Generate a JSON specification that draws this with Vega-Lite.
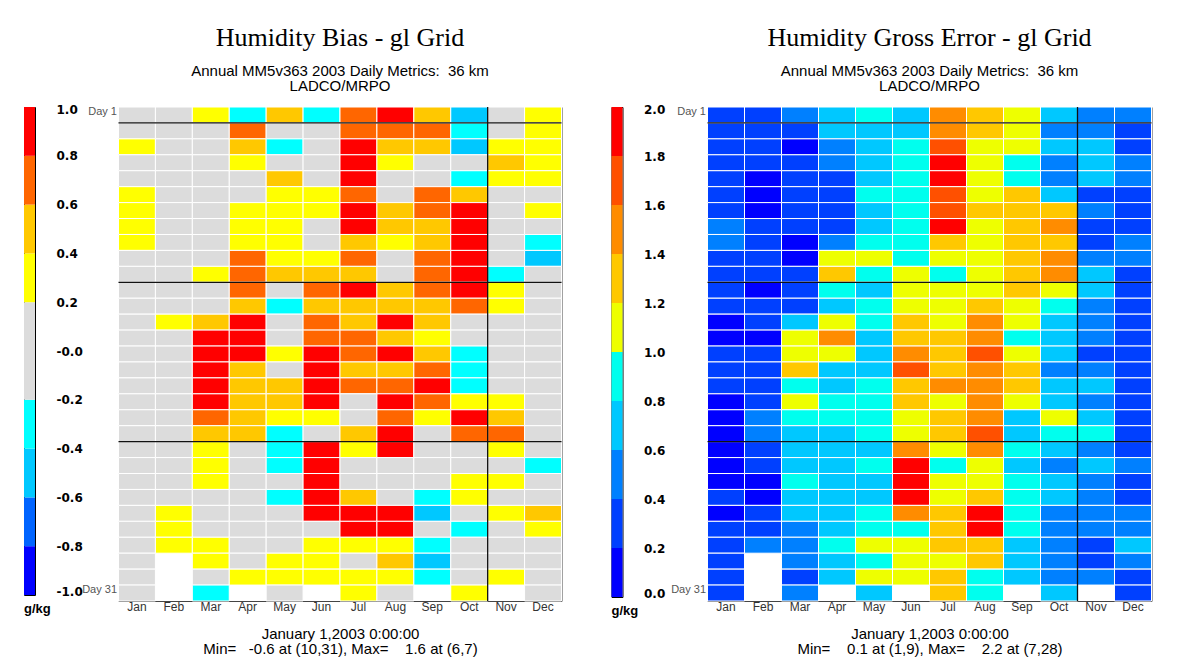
{
"$schema": "https://vega.github.io/schema/vega-lite/v6.json",
"background": "white",
"padding": {"left": 23, "top": 24, "right": 0, "bottom": 0},
"config": {"view": {"stroke": null}, "axis": {"grid": false}, "font": "Liberation Sans"},
"datasets": {
"hl": [{"d":2},{"d":12},{"d":22}],
"vl": [{"m":"Nov"}],
"cbBias": [{"lo":-1,"hi":-0.8,"v":-0.9},{"lo":-0.8,"hi":-0.6,"v":-0.7},{"lo":-0.6,"hi":-0.4,"v":-0.5},{"lo":-0.4,"hi":-0.2,"v":-0.3},{"lo":-0.2,"hi":0.2,"v":0},{"lo":0.2,"hi":0.4,"v":0.3},{"lo":0.4,"hi":0.6,"v":0.5},{"lo":0.6,"hi":0.8,"v":0.7},{"lo":0.8,"hi":1,"v":0.9}],
"cbGross": [{"lo":0,"hi":0.2,"v":0.1},{"lo":0.2,"hi":0.4,"v":0.3},{"lo":0.4,"hi":0.6,"v":0.5},{"lo":0.6,"hi":0.8,"v":0.7},{"lo":0.8,"hi":1.0,"v":0.9},{"lo":1.0,"hi":1.2,"v":1.1},{"lo":1.2,"hi":1.4,"v":1.3},{"lo":1.4,"hi":1.6,"v":1.5},{"lo":1.6,"hi":1.8,"v":1.7},{"lo":1.8,"hi":2.0,"v":1.9}],
"bias": [
{"m":"Jan","d":1,"v":0},{"m":"Feb","d":1,"v":0},{"m":"Mar","d":1,"v":0.3},{"m":"Apr","d":1,"v":-0.3},{"m":"May","d":1,"v":0.5},{"m":"Jun","d":1,"v":-0.3},{"m":"Jul","d":1,"v":0.7},{"m":"Aug","d":1,"v":0.9},{"m":"Sep","d":1,"v":0.5},{"m":"Oct","d":1,"v":-0.5},{"m":"Nov","d":1,"v":0},{"m":"Dec","d":1,"v":0.3},
{"m":"Jan","d":2,"v":0},{"m":"Feb","d":2,"v":0},{"m":"Mar","d":2,"v":0},{"m":"Apr","d":2,"v":0.7},{"m":"May","d":2,"v":0},{"m":"Jun","d":2,"v":0},{"m":"Jul","d":2,"v":0.7},{"m":"Aug","d":2,"v":0.7},{"m":"Sep","d":2,"v":0.7},{"m":"Oct","d":2,"v":-0.3},{"m":"Nov","d":2,"v":0},{"m":"Dec","d":2,"v":0.3},
{"m":"Jan","d":3,"v":0.3},{"m":"Feb","d":3,"v":0},{"m":"Mar","d":3,"v":0},{"m":"Apr","d":3,"v":0.5},{"m":"May","d":3,"v":-0.3},{"m":"Jun","d":3,"v":0},{"m":"Jul","d":3,"v":0.9},{"m":"Aug","d":3,"v":0.5},{"m":"Sep","d":3,"v":0.5},{"m":"Oct","d":3,"v":-0.5},{"m":"Nov","d":3,"v":0.3},{"m":"Dec","d":3,"v":0.3},
{"m":"Jan","d":4,"v":0},{"m":"Feb","d":4,"v":0},{"m":"Mar","d":4,"v":0},{"m":"Apr","d":4,"v":0.3},{"m":"May","d":4,"v":0},{"m":"Jun","d":4,"v":0},{"m":"Jul","d":4,"v":0.9},{"m":"Aug","d":4,"v":0.3},{"m":"Sep","d":4,"v":0},{"m":"Oct","d":4,"v":0},{"m":"Nov","d":4,"v":0.5},{"m":"Dec","d":4,"v":0.3},
{"m":"Jan","d":5,"v":0},{"m":"Feb","d":5,"v":0},{"m":"Mar","d":5,"v":0},{"m":"Apr","d":5,"v":0},{"m":"May","d":5,"v":0.5},{"m":"Jun","d":5,"v":0},{"m":"Jul","d":5,"v":0.9},{"m":"Aug","d":5,"v":0},{"m":"Sep","d":5,"v":0},{"m":"Oct","d":5,"v":-0.3},{"m":"Nov","d":5,"v":0.3},{"m":"Dec","d":5,"v":0.3},
{"m":"Jan","d":6,"v":0.3},{"m":"Feb","d":6,"v":0},{"m":"Mar","d":6,"v":0},{"m":"Apr","d":6,"v":0},{"m":"May","d":6,"v":0.3},{"m":"Jun","d":6,"v":0.3},{"m":"Jul","d":6,"v":0.7},{"m":"Aug","d":6,"v":0},{"m":"Sep","d":6,"v":0.7},{"m":"Oct","d":6,"v":0.5},{"m":"Nov","d":6,"v":0},{"m":"Dec","d":6,"v":0},
{"m":"Jan","d":7,"v":0.3},{"m":"Feb","d":7,"v":0},{"m":"Mar","d":7,"v":0},{"m":"Apr","d":7,"v":0.3},{"m":"May","d":7,"v":0.3},{"m":"Jun","d":7,"v":0.3},{"m":"Jul","d":7,"v":0.9},{"m":"Aug","d":7,"v":0.5},{"m":"Sep","d":7,"v":0.7},{"m":"Oct","d":7,"v":0.9},{"m":"Nov","d":7,"v":0},{"m":"Dec","d":7,"v":0.3},
{"m":"Jan","d":8,"v":0.3},{"m":"Feb","d":8,"v":0},{"m":"Mar","d":8,"v":0},{"m":"Apr","d":8,"v":0.3},{"m":"May","d":8,"v":0.3},{"m":"Jun","d":8,"v":0},{"m":"Jul","d":8,"v":0.9},{"m":"Aug","d":8,"v":0.5},{"m":"Sep","d":8,"v":0.5},{"m":"Oct","d":8,"v":0.9},{"m":"Nov","d":8,"v":0},{"m":"Dec","d":8,"v":0},
{"m":"Jan","d":9,"v":0.3},{"m":"Feb","d":9,"v":0},{"m":"Mar","d":9,"v":0},{"m":"Apr","d":9,"v":0.3},{"m":"May","d":9,"v":0.3},{"m":"Jun","d":9,"v":0},{"m":"Jul","d":9,"v":0.5},{"m":"Aug","d":9,"v":0.3},{"m":"Sep","d":9,"v":0.5},{"m":"Oct","d":9,"v":0.9},{"m":"Nov","d":9,"v":0},{"m":"Dec","d":9,"v":-0.3},
{"m":"Jan","d":10,"v":0},{"m":"Feb","d":10,"v":0},{"m":"Mar","d":10,"v":0},{"m":"Apr","d":10,"v":0.7},{"m":"May","d":10,"v":0.3},{"m":"Jun","d":10,"v":0.3},{"m":"Jul","d":10,"v":0.7},{"m":"Aug","d":10,"v":0},{"m":"Sep","d":10,"v":0.7},{"m":"Oct","d":10,"v":0.9},{"m":"Nov","d":10,"v":0},{"m":"Dec","d":10,"v":-0.5},
{"m":"Jan","d":11,"v":0},{"m":"Feb","d":11,"v":0},{"m":"Mar","d":11,"v":0.3},{"m":"Apr","d":11,"v":0.7},{"m":"May","d":11,"v":0.5},{"m":"Jun","d":11,"v":0.5},{"m":"Jul","d":11,"v":0.5},{"m":"Aug","d":11,"v":0},{"m":"Sep","d":11,"v":0.7},{"m":"Oct","d":11,"v":0.9},{"m":"Nov","d":11,"v":-0.3},{"m":"Dec","d":11,"v":0},
{"m":"Jan","d":12,"v":0},{"m":"Feb","d":12,"v":0},{"m":"Mar","d":12,"v":0},{"m":"Apr","d":12,"v":0.7},{"m":"May","d":12,"v":0},{"m":"Jun","d":12,"v":0.7},{"m":"Jul","d":12,"v":0.9},{"m":"Aug","d":12,"v":0.5},{"m":"Sep","d":12,"v":0.7},{"m":"Oct","d":12,"v":0.9},{"m":"Nov","d":12,"v":0.3},{"m":"Dec","d":12,"v":0},
{"m":"Jan","d":13,"v":0},{"m":"Feb","d":13,"v":0},{"m":"Mar","d":13,"v":0},{"m":"Apr","d":13,"v":0.5},{"m":"May","d":13,"v":-0.3},{"m":"Jun","d":13,"v":0.5},{"m":"Jul","d":13,"v":0.5},{"m":"Aug","d":13,"v":0.5},{"m":"Sep","d":13,"v":0.5},{"m":"Oct","d":13,"v":0.7},{"m":"Nov","d":13,"v":0.3},{"m":"Dec","d":13,"v":0},
{"m":"Jan","d":14,"v":0},{"m":"Feb","d":14,"v":0.3},{"m":"Mar","d":14,"v":0.5},{"m":"Apr","d":14,"v":0.9},{"m":"May","d":14,"v":0},{"m":"Jun","d":14,"v":0.7},{"m":"Jul","d":14,"v":0.5},{"m":"Aug","d":14,"v":0.9},{"m":"Sep","d":14,"v":0.5},{"m":"Oct","d":14,"v":0},{"m":"Nov","d":14,"v":0},{"m":"Dec","d":14,"v":0},
{"m":"Jan","d":15,"v":0},{"m":"Feb","d":15,"v":0},{"m":"Mar","d":15,"v":0.9},{"m":"Apr","d":15,"v":0.9},{"m":"May","d":15,"v":0},{"m":"Jun","d":15,"v":0.7},{"m":"Jul","d":15,"v":0.7},{"m":"Aug","d":15,"v":0.5},{"m":"Sep","d":15,"v":0.3},{"m":"Oct","d":15,"v":0},{"m":"Nov","d":15,"v":0},{"m":"Dec","d":15,"v":0},
{"m":"Jan","d":16,"v":0},{"m":"Feb","d":16,"v":0},{"m":"Mar","d":16,"v":0.9},{"m":"Apr","d":16,"v":0.9},{"m":"May","d":16,"v":0.3},{"m":"Jun","d":16,"v":0.9},{"m":"Jul","d":16,"v":0.7},{"m":"Aug","d":16,"v":0.9},{"m":"Sep","d":16,"v":0.5},{"m":"Oct","d":16,"v":-0.3},{"m":"Nov","d":16,"v":0},{"m":"Dec","d":16,"v":0},
{"m":"Jan","d":17,"v":0},{"m":"Feb","d":17,"v":0},{"m":"Mar","d":17,"v":0.9},{"m":"Apr","d":17,"v":0.5},{"m":"May","d":17,"v":0},{"m":"Jun","d":17,"v":0.9},{"m":"Jul","d":17,"v":0.5},{"m":"Aug","d":17,"v":0.5},{"m":"Sep","d":17,"v":0.7},{"m":"Oct","d":17,"v":-0.3},{"m":"Nov","d":17,"v":0},{"m":"Dec","d":17,"v":0},
{"m":"Jan","d":18,"v":0},{"m":"Feb","d":18,"v":0},{"m":"Mar","d":18,"v":0.9},{"m":"Apr","d":18,"v":0.5},{"m":"May","d":18,"v":0.5},{"m":"Jun","d":18,"v":0.9},{"m":"Jul","d":18,"v":0.7},{"m":"Aug","d":18,"v":0.7},{"m":"Sep","d":18,"v":0.9},{"m":"Oct","d":18,"v":-0.3},{"m":"Nov","d":18,"v":0},{"m":"Dec","d":18,"v":0},
{"m":"Jan","d":19,"v":0},{"m":"Feb","d":19,"v":0},{"m":"Mar","d":19,"v":0.9},{"m":"Apr","d":19,"v":0.5},{"m":"May","d":19,"v":0.5},{"m":"Jun","d":19,"v":0.9},{"m":"Jul","d":19,"v":0},{"m":"Aug","d":19,"v":0.9},{"m":"Sep","d":19,"v":0.7},{"m":"Oct","d":19,"v":0.3},{"m":"Nov","d":19,"v":0.3},{"m":"Dec","d":19,"v":0},
{"m":"Jan","d":20,"v":0},{"m":"Feb","d":20,"v":0},{"m":"Mar","d":20,"v":0.7},{"m":"Apr","d":20,"v":0.5},{"m":"May","d":20,"v":0.3},{"m":"Jun","d":20,"v":0.3},{"m":"Jul","d":20,"v":0},{"m":"Aug","d":20,"v":0.7},{"m":"Sep","d":20,"v":0.3},{"m":"Oct","d":20,"v":0.9},{"m":"Nov","d":20,"v":0.5},{"m":"Dec","d":20,"v":0},
{"m":"Jan","d":21,"v":0},{"m":"Feb","d":21,"v":0},{"m":"Mar","d":21,"v":0.5},{"m":"Apr","d":21,"v":0.5},{"m":"May","d":21,"v":-0.3},{"m":"Jun","d":21,"v":0},{"m":"Jul","d":21,"v":0.5},{"m":"Aug","d":21,"v":0.9},{"m":"Sep","d":21,"v":0},{"m":"Oct","d":21,"v":0.7},{"m":"Nov","d":21,"v":0.7},{"m":"Dec","d":21,"v":0},
{"m":"Jan","d":22,"v":0},{"m":"Feb","d":22,"v":0},{"m":"Mar","d":22,"v":0.3},{"m":"Apr","d":22,"v":0},{"m":"May","d":22,"v":-0.3},{"m":"Jun","d":22,"v":0.9},{"m":"Jul","d":22,"v":0.3},{"m":"Aug","d":22,"v":0.9},{"m":"Sep","d":22,"v":0},{"m":"Oct","d":22,"v":0},{"m":"Nov","d":22,"v":0.3},{"m":"Dec","d":22,"v":0},
{"m":"Jan","d":23,"v":0},{"m":"Feb","d":23,"v":0},{"m":"Mar","d":23,"v":0.3},{"m":"Apr","d":23,"v":0},{"m":"May","d":23,"v":-0.3},{"m":"Jun","d":23,"v":0.9},{"m":"Jul","d":23,"v":0},{"m":"Aug","d":23,"v":0},{"m":"Sep","d":23,"v":0},{"m":"Oct","d":23,"v":0},{"m":"Nov","d":23,"v":0},{"m":"Dec","d":23,"v":-0.3},
{"m":"Jan","d":24,"v":0},{"m":"Feb","d":24,"v":0},{"m":"Mar","d":24,"v":0.3},{"m":"Apr","d":24,"v":0},{"m":"May","d":24,"v":0},{"m":"Jun","d":24,"v":0.9},{"m":"Jul","d":24,"v":0},{"m":"Aug","d":24,"v":0},{"m":"Sep","d":24,"v":0},{"m":"Oct","d":24,"v":0.3},{"m":"Nov","d":24,"v":0.3},{"m":"Dec","d":24,"v":0},
{"m":"Jan","d":25,"v":0},{"m":"Feb","d":25,"v":0},{"m":"Mar","d":25,"v":0},{"m":"Apr","d":25,"v":0},{"m":"May","d":25,"v":-0.3},{"m":"Jun","d":25,"v":0.9},{"m":"Jul","d":25,"v":0.5},{"m":"Aug","d":25,"v":0},{"m":"Sep","d":25,"v":-0.3},{"m":"Oct","d":25,"v":0.3},{"m":"Nov","d":25,"v":0},{"m":"Dec","d":25,"v":0},
{"m":"Jan","d":26,"v":0},{"m":"Feb","d":26,"v":0.3},{"m":"Mar","d":26,"v":0},{"m":"Apr","d":26,"v":0},{"m":"May","d":26,"v":0},{"m":"Jun","d":26,"v":0.9},{"m":"Jul","d":26,"v":0.9},{"m":"Aug","d":26,"v":0.9},{"m":"Sep","d":26,"v":-0.5},{"m":"Oct","d":26,"v":0},{"m":"Nov","d":26,"v":0.3},{"m":"Dec","d":26,"v":0.5},
{"m":"Jan","d":27,"v":0},{"m":"Feb","d":27,"v":0.3},{"m":"Mar","d":27,"v":0},{"m":"Apr","d":27,"v":0},{"m":"May","d":27,"v":0},{"m":"Jun","d":27,"v":0},{"m":"Jul","d":27,"v":0.9},{"m":"Aug","d":27,"v":0.9},{"m":"Sep","d":27,"v":0},{"m":"Oct","d":27,"v":-0.3},{"m":"Nov","d":27,"v":0},{"m":"Dec","d":27,"v":0.3},
{"m":"Jan","d":28,"v":0},{"m":"Feb","d":28,"v":0.3},{"m":"Mar","d":28,"v":0.3},{"m":"Apr","d":28,"v":0},{"m":"May","d":28,"v":0},{"m":"Jun","d":28,"v":0.3},{"m":"Jul","d":28,"v":0.3},{"m":"Aug","d":28,"v":0.3},{"m":"Sep","d":28,"v":-0.3},{"m":"Oct","d":28,"v":0},{"m":"Nov","d":28,"v":0},{"m":"Dec","d":28,"v":0},
{"m":"Jan","d":29,"v":0},{"m":"Mar","d":29,"v":0.3},{"m":"Apr","d":29,"v":0},{"m":"May","d":29,"v":0.3},{"m":"Jun","d":29,"v":0.3},{"m":"Jul","d":29,"v":0},{"m":"Aug","d":29,"v":0.5},{"m":"Sep","d":29,"v":-0.5},{"m":"Oct","d":29,"v":0},{"m":"Nov","d":29,"v":0},{"m":"Dec","d":29,"v":0},
{"m":"Jan","d":30,"v":0},{"m":"Mar","d":30,"v":0},{"m":"Apr","d":30,"v":0.3},{"m":"May","d":30,"v":0.3},{"m":"Jun","d":30,"v":0.3},{"m":"Jul","d":30,"v":0.3},{"m":"Aug","d":30,"v":0.3},{"m":"Sep","d":30,"v":-0.3},{"m":"Oct","d":30,"v":0},{"m":"Nov","d":30,"v":0.3},{"m":"Dec","d":30,"v":0},
{"m":"Jan","d":31,"v":0},{"m":"Mar","d":31,"v":-0.3},{"m":"May","d":31,"v":0},{"m":"Jul","d":31,"v":0.3},{"m":"Aug","d":31,"v":0},{"m":"Oct","d":31,"v":0.3},{"m":"Dec","d":31,"v":0}
],
"gross": [
{"m":"Jan","d":1,"v":0.3},{"m":"Feb","d":1,"v":0.3},{"m":"Mar","d":1,"v":0.5},{"m":"Apr","d":1,"v":0.7},{"m":"May","d":1,"v":0.9},{"m":"Jun","d":1,"v":0.7},{"m":"Jul","d":1,"v":1.5},{"m":"Aug","d":1,"v":1.3},{"m":"Sep","d":1,"v":1.1},{"m":"Oct","d":1,"v":0.7},{"m":"Nov","d":1,"v":0.5},{"m":"Dec","d":1,"v":0.5},
{"m":"Jan","d":2,"v":0.3},{"m":"Feb","d":2,"v":0.3},{"m":"Mar","d":2,"v":0.3},{"m":"Apr","d":2,"v":0.7},{"m":"May","d":2,"v":0.7},{"m":"Jun","d":2,"v":0.7},{"m":"Jul","d":2,"v":1.5},{"m":"Aug","d":2,"v":1.3},{"m":"Sep","d":2,"v":1.1},{"m":"Oct","d":2,"v":0.5},{"m":"Nov","d":2,"v":0.5},{"m":"Dec","d":2,"v":0.3},
{"m":"Jan","d":3,"v":0.3},{"m":"Feb","d":3,"v":0.3},{"m":"Mar","d":3,"v":0.1},{"m":"Apr","d":3,"v":0.5},{"m":"May","d":3,"v":0.7},{"m":"Jun","d":3,"v":0.9},{"m":"Jul","d":3,"v":1.7},{"m":"Aug","d":3,"v":1.1},{"m":"Sep","d":3,"v":1.1},{"m":"Oct","d":3,"v":0.7},{"m":"Nov","d":3,"v":0.7},{"m":"Dec","d":3,"v":0.3},
{"m":"Jan","d":4,"v":0.3},{"m":"Feb","d":4,"v":0.3},{"m":"Mar","d":4,"v":0.3},{"m":"Apr","d":4,"v":0.5},{"m":"May","d":4,"v":0.7},{"m":"Jun","d":4,"v":0.9},{"m":"Jul","d":4,"v":1.9},{"m":"Aug","d":4,"v":1.1},{"m":"Sep","d":4,"v":0.9},{"m":"Oct","d":4,"v":0.5},{"m":"Nov","d":4,"v":0.7},{"m":"Dec","d":4,"v":0.5},
{"m":"Jan","d":5,"v":0.3},{"m":"Feb","d":5,"v":0.1},{"m":"Mar","d":5,"v":0.3},{"m":"Apr","d":5,"v":0.3},{"m":"May","d":5,"v":0.7},{"m":"Jun","d":5,"v":0.9},{"m":"Jul","d":5,"v":1.9},{"m":"Aug","d":5,"v":1.1},{"m":"Sep","d":5,"v":0.9},{"m":"Oct","d":5,"v":0.5},{"m":"Nov","d":5,"v":0.7},{"m":"Dec","d":5,"v":0.5},
{"m":"Jan","d":6,"v":0.3},{"m":"Feb","d":6,"v":0.1},{"m":"Mar","d":6,"v":0.3},{"m":"Apr","d":6,"v":0.3},{"m":"May","d":6,"v":0.9},{"m":"Jun","d":6,"v":0.9},{"m":"Jul","d":6,"v":1.7},{"m":"Aug","d":6,"v":1.1},{"m":"Sep","d":6,"v":1.3},{"m":"Oct","d":6,"v":0.7},{"m":"Nov","d":6,"v":0.3},{"m":"Dec","d":6,"v":0.3},
{"m":"Jan","d":7,"v":0.3},{"m":"Feb","d":7,"v":0.1},{"m":"Mar","d":7,"v":0.3},{"m":"Apr","d":7,"v":0.3},{"m":"May","d":7,"v":0.7},{"m":"Jun","d":7,"v":0.9},{"m":"Jul","d":7,"v":1.7},{"m":"Aug","d":7,"v":1.3},{"m":"Sep","d":7,"v":1.3},{"m":"Oct","d":7,"v":1.3},{"m":"Nov","d":7,"v":0.5},{"m":"Dec","d":7,"v":0.3},
{"m":"Jan","d":8,"v":0.5},{"m":"Feb","d":8,"v":0.3},{"m":"Mar","d":8,"v":0.3},{"m":"Apr","d":8,"v":0.3},{"m":"May","d":8,"v":0.7},{"m":"Jun","d":8,"v":0.9},{"m":"Jul","d":8,"v":1.9},{"m":"Aug","d":8,"v":1.1},{"m":"Sep","d":8,"v":1.3},{"m":"Oct","d":8,"v":1.5},{"m":"Nov","d":8,"v":0.3},{"m":"Dec","d":8,"v":0.3},
{"m":"Jan","d":9,"v":0.5},{"m":"Feb","d":9,"v":0.3},{"m":"Mar","d":9,"v":0.1},{"m":"Apr","d":9,"v":0.5},{"m":"May","d":9,"v":0.9},{"m":"Jun","d":9,"v":0.9},{"m":"Jul","d":9,"v":1.3},{"m":"Aug","d":9,"v":1.1},{"m":"Sep","d":9,"v":1.3},{"m":"Oct","d":9,"v":1.3},{"m":"Nov","d":9,"v":0.3},{"m":"Dec","d":9,"v":0.5},
{"m":"Jan","d":10,"v":0.3},{"m":"Feb","d":10,"v":0.3},{"m":"Mar","d":10,"v":0.1},{"m":"Apr","d":10,"v":1.1},{"m":"May","d":10,"v":1.1},{"m":"Jun","d":10,"v":0.9},{"m":"Jul","d":10,"v":1.1},{"m":"Aug","d":10,"v":1.1},{"m":"Sep","d":10,"v":1.3},{"m":"Oct","d":10,"v":1.5},{"m":"Nov","d":10,"v":0.5},{"m":"Dec","d":10,"v":0.5},
{"m":"Jan","d":11,"v":0.3},{"m":"Feb","d":11,"v":0.3},{"m":"Mar","d":11,"v":0.3},{"m":"Apr","d":11,"v":1.3},{"m":"May","d":11,"v":0.9},{"m":"Jun","d":11,"v":1.1},{"m":"Jul","d":11,"v":0.9},{"m":"Aug","d":11,"v":1.1},{"m":"Sep","d":11,"v":1.3},{"m":"Oct","d":11,"v":1.5},{"m":"Nov","d":11,"v":0.7},{"m":"Dec","d":11,"v":0.3},
{"m":"Jan","d":12,"v":0.3},{"m":"Feb","d":12,"v":0.1},{"m":"Mar","d":12,"v":0.3},{"m":"Apr","d":12,"v":0.9},{"m":"May","d":12,"v":0.7},{"m":"Jun","d":12,"v":1.1},{"m":"Jul","d":12,"v":1.1},{"m":"Aug","d":12,"v":1.1},{"m":"Sep","d":12,"v":1.3},{"m":"Oct","d":12,"v":1.1},{"m":"Nov","d":12,"v":0.7},{"m":"Dec","d":12,"v":0.3},
{"m":"Jan","d":13,"v":0.3},{"m":"Feb","d":13,"v":0.3},{"m":"Mar","d":13,"v":0.3},{"m":"Apr","d":13,"v":0.7},{"m":"May","d":13,"v":0.9},{"m":"Jun","d":13,"v":1.1},{"m":"Jul","d":13,"v":1.1},{"m":"Aug","d":13,"v":1.3},{"m":"Sep","d":13,"v":1.1},{"m":"Oct","d":13,"v":0.9},{"m":"Nov","d":13,"v":0.5},{"m":"Dec","d":13,"v":0.3},
{"m":"Jan","d":14,"v":0.1},{"m":"Feb","d":14,"v":0.3},{"m":"Mar","d":14,"v":0.7},{"m":"Apr","d":14,"v":1.1},{"m":"May","d":14,"v":0.9},{"m":"Jun","d":14,"v":1.3},{"m":"Jul","d":14,"v":1.1},{"m":"Aug","d":14,"v":1.5},{"m":"Sep","d":14,"v":1.1},{"m":"Oct","d":14,"v":0.7},{"m":"Nov","d":14,"v":0.5},{"m":"Dec","d":14,"v":0.3},
{"m":"Jan","d":15,"v":0.1},{"m":"Feb","d":15,"v":0.1},{"m":"Mar","d":15,"v":1.1},{"m":"Apr","d":15,"v":1.5},{"m":"May","d":15,"v":0.7},{"m":"Jun","d":15,"v":1.3},{"m":"Jul","d":15,"v":1.3},{"m":"Aug","d":15,"v":1.5},{"m":"Sep","d":15,"v":0.9},{"m":"Oct","d":15,"v":0.7},{"m":"Nov","d":15,"v":0.5},{"m":"Dec","d":15,"v":0.3},
{"m":"Jan","d":16,"v":0.3},{"m":"Feb","d":16,"v":0.3},{"m":"Mar","d":16,"v":1.1},{"m":"Apr","d":16,"v":1.1},{"m":"May","d":16,"v":0.7},{"m":"Jun","d":16,"v":1.5},{"m":"Jul","d":16,"v":1.3},{"m":"Aug","d":16,"v":1.7},{"m":"Sep","d":16,"v":1.1},{"m":"Oct","d":16,"v":0.7},{"m":"Nov","d":16,"v":0.3},{"m":"Dec","d":16,"v":0.3},
{"m":"Jan","d":17,"v":0.3},{"m":"Feb","d":17,"v":0.3},{"m":"Mar","d":17,"v":1.3},{"m":"Apr","d":17,"v":0.7},{"m":"May","d":17,"v":0.7},{"m":"Jun","d":17,"v":1.7},{"m":"Jul","d":17,"v":1.3},{"m":"Aug","d":17,"v":1.5},{"m":"Sep","d":17,"v":1.3},{"m":"Oct","d":17,"v":0.5},{"m":"Nov","d":17,"v":0.5},{"m":"Dec","d":17,"v":0.3},
{"m":"Jan","d":18,"v":0.3},{"m":"Feb","d":18,"v":0.3},{"m":"Mar","d":18,"v":0.9},{"m":"Apr","d":18,"v":0.7},{"m":"May","d":18,"v":0.9},{"m":"Jun","d":18,"v":1.3},{"m":"Jul","d":18,"v":1.5},{"m":"Aug","d":18,"v":1.5},{"m":"Sep","d":18,"v":1.3},{"m":"Oct","d":18,"v":0.7},{"m":"Nov","d":18,"v":0.7},{"m":"Dec","d":18,"v":0.3},
{"m":"Jan","d":19,"v":0.1},{"m":"Feb","d":19,"v":0.3},{"m":"Mar","d":19,"v":1.1},{"m":"Apr","d":19,"v":0.9},{"m":"May","d":19,"v":0.9},{"m":"Jun","d":19,"v":1.3},{"m":"Jul","d":19,"v":1.1},{"m":"Aug","d":19,"v":1.5},{"m":"Sep","d":19,"v":1.1},{"m":"Oct","d":19,"v":0.7},{"m":"Nov","d":19,"v":0.5},{"m":"Dec","d":19,"v":0.3},
{"m":"Jan","d":20,"v":0.1},{"m":"Feb","d":20,"v":0.5},{"m":"Mar","d":20,"v":0.9},{"m":"Apr","d":20,"v":0.9},{"m":"May","d":20,"v":0.9},{"m":"Jun","d":20,"v":1.1},{"m":"Jul","d":20,"v":1.3},{"m":"Aug","d":20,"v":1.5},{"m":"Sep","d":20,"v":0.7},{"m":"Oct","d":20,"v":1.1},{"m":"Nov","d":20,"v":0.7},{"m":"Dec","d":20,"v":0.3},
{"m":"Jan","d":21,"v":0.1},{"m":"Feb","d":21,"v":0.5},{"m":"Mar","d":21,"v":0.7},{"m":"Apr","d":21,"v":0.7},{"m":"May","d":21,"v":0.9},{"m":"Jun","d":21,"v":1.1},{"m":"Jul","d":21,"v":1.3},{"m":"Aug","d":21,"v":1.7},{"m":"Sep","d":21,"v":0.7},{"m":"Oct","d":21,"v":0.9},{"m":"Nov","d":21,"v":0.9},{"m":"Dec","d":21,"v":0.3},
{"m":"Jan","d":22,"v":0.1},{"m":"Feb","d":22,"v":0.3},{"m":"Mar","d":22,"v":0.7},{"m":"Apr","d":22,"v":0.7},{"m":"May","d":22,"v":0.7},{"m":"Jun","d":22,"v":1.5},{"m":"Jul","d":22,"v":1.1},{"m":"Aug","d":22,"v":1.5},{"m":"Sep","d":22,"v":0.9},{"m":"Oct","d":22,"v":0.7},{"m":"Nov","d":22,"v":0.5},{"m":"Dec","d":22,"v":0.3},
{"m":"Jan","d":23,"v":0.1},{"m":"Feb","d":23,"v":0.3},{"m":"Mar","d":23,"v":0.7},{"m":"Apr","d":23,"v":0.7},{"m":"May","d":23,"v":0.9},{"m":"Jun","d":23,"v":1.9},{"m":"Jul","d":23,"v":0.9},{"m":"Aug","d":23,"v":1.1},{"m":"Sep","d":23,"v":0.7},{"m":"Oct","d":23,"v":0.5},{"m":"Nov","d":23,"v":0.7},{"m":"Dec","d":23,"v":0.5},
{"m":"Jan","d":24,"v":0.1},{"m":"Feb","d":24,"v":0.1},{"m":"Mar","d":24,"v":0.9},{"m":"Apr","d":24,"v":0.7},{"m":"May","d":24,"v":0.7},{"m":"Jun","d":24,"v":1.9},{"m":"Jul","d":24,"v":1.1},{"m":"Aug","d":24,"v":1.1},{"m":"Sep","d":24,"v":0.9},{"m":"Oct","d":24,"v":0.7},{"m":"Nov","d":24,"v":0.5},{"m":"Dec","d":24,"v":0.3},
{"m":"Jan","d":25,"v":0.3},{"m":"Feb","d":25,"v":0.1},{"m":"Mar","d":25,"v":0.7},{"m":"Apr","d":25,"v":0.7},{"m":"May","d":25,"v":0.7},{"m":"Jun","d":25,"v":1.9},{"m":"Jul","d":25,"v":1.1},{"m":"Aug","d":25,"v":1.3},{"m":"Sep","d":25,"v":0.9},{"m":"Oct","d":25,"v":0.7},{"m":"Nov","d":25,"v":0.5},{"m":"Dec","d":25,"v":0.3},
{"m":"Jan","d":26,"v":0.1},{"m":"Feb","d":26,"v":0.3},{"m":"Mar","d":26,"v":0.7},{"m":"Apr","d":26,"v":0.7},{"m":"May","d":26,"v":0.9},{"m":"Jun","d":26,"v":1.5},{"m":"Jul","d":26,"v":1.3},{"m":"Aug","d":26,"v":1.9},{"m":"Sep","d":26,"v":0.9},{"m":"Oct","d":26,"v":0.5},{"m":"Nov","d":26,"v":0.5},{"m":"Dec","d":26,"v":0.5},
{"m":"Jan","d":27,"v":0.3},{"m":"Feb","d":27,"v":0.3},{"m":"Mar","d":27,"v":0.5},{"m":"Apr","d":27,"v":0.7},{"m":"May","d":27,"v":0.9},{"m":"Jun","d":27,"v":0.9},{"m":"Jul","d":27,"v":1.3},{"m":"Aug","d":27,"v":1.9},{"m":"Sep","d":27,"v":0.9},{"m":"Oct","d":27,"v":0.5},{"m":"Nov","d":27,"v":0.5},{"m":"Dec","d":27,"v":0.5},
{"m":"Jan","d":28,"v":0.3},{"m":"Feb","d":28,"v":0.5},{"m":"Mar","d":28,"v":0.5},{"m":"Apr","d":28,"v":0.9},{"m":"May","d":28,"v":1.1},{"m":"Jun","d":28,"v":1.1},{"m":"Jul","d":28,"v":1.3},{"m":"Aug","d":28,"v":1.3},{"m":"Sep","d":28,"v":0.7},{"m":"Oct","d":28,"v":0.5},{"m":"Nov","d":28,"v":0.3},{"m":"Dec","d":28,"v":0.7},
{"m":"Jan","d":29,"v":0.3},{"m":"Mar","d":29,"v":0.5},{"m":"Apr","d":29,"v":0.7},{"m":"May","d":29,"v":0.9},{"m":"Jun","d":29,"v":1.1},{"m":"Jul","d":29,"v":1.1},{"m":"Aug","d":29,"v":1.3},{"m":"Sep","d":29,"v":0.7},{"m":"Oct","d":29,"v":0.5},{"m":"Nov","d":29,"v":0.3},{"m":"Dec","d":29,"v":0.5},
{"m":"Jan","d":30,"v":0.3},{"m":"Mar","d":30,"v":0.3},{"m":"Apr","d":30,"v":0.7},{"m":"May","d":30,"v":1.1},{"m":"Jun","d":30,"v":1.1},{"m":"Jul","d":30,"v":1.3},{"m":"Aug","d":30,"v":0.9},{"m":"Sep","d":30,"v":0.7},{"m":"Oct","d":30,"v":0.5},{"m":"Nov","d":30,"v":0.5},{"m":"Dec","d":30,"v":0.3},
{"m":"Jan","d":31,"v":0.3},{"m":"Mar","d":31,"v":0.5},{"m":"May","d":31,"v":0.7},{"m":"Jul","d":31,"v":1.3},{"m":"Aug","d":31,"v":0.9},{"m":"Oct","d":31,"v":0.7},{"m":"Dec","d":31,"v":0.3}
]
},
"hconcat": [
{
"hconcat": [
{
"width": 11, "height": 488,
"view": {"stroke": "black", "strokeWidth": 1},
"title": {"text": "g/kg", "orient": "bottom", "anchor": "start", "font": "Liberation Sans", "fontSize": 13, "fontWeight": "bold", "color": "black", "offset": 6},
"data": {"name": "cbBias"},
"mark": "rect",
"encoding": {
"y": {"field": "lo", "type": "quantitative", "scale": {"domain": [-1, 1], "nice": false, "zero": false},
"axis": {"orient": "right", "title": null, "values": [-1, -0.8, -0.6, -0.4, -0.2, 0, 0.2, 0.4, 0.6, 0.8, 1], "labelExpr": "datum.value == 0 ? '-0.0' : replace(format(datum.value, '.1f'), '\u2212', '-')", "ticks": false, "domain": false, "labelAlign": "left", "labelPadding": 21, "labelFont": "DejaVu Sans", "labelFontSize": 12, "labelFontWeight": "bold", "labelColor": "black", "labelFlush": true, "labelFlushOffset": 3, "labelOverlap": false}},
"y2": {"field": "hi"},
"color": {"field": "v", "type": "quantitative", "scale": {"type": "threshold", "domain": [-0.8, -0.6, -0.4, -0.2, 0.2, 0.4, 0.6, 0.8], "range": ["#0000FF", "#0064FF", "#00C8FF", "#00FFFF", "#DCDCDC", "#FFFF00", "#FFC800", "#FF6600", "#FF0000"]}, "legend": null}
}
},
{
"width": 443, "height": 494,
"view": {"stroke": "#444", "strokeWidth": 1},
"title": {"text": "Humidity Bias - gl Grid", "subtitle": ["Annual MM5v363 2003 Daily Metrics:\u00a0\u00a036 km", "LADCO/MRPO"], "anchor": "middle", "font": "Liberation Serif", "fontSize": 26, "fontWeight": "normal", "color": "black", "subtitleFont": "Liberation Sans", "subtitleFontSize": 15, "subtitleColor": "black", "subtitleLineHeight": 15, "subtitlePadding": 13, "offset": 11},
"layer": [
{
"data": {"name": "bias"},
"mark": {"type": "rect", "stroke": "white", "strokeWidth": 1},
"encoding": {
"x": {"field": "m", "type": "ordinal", "scale": {"domain": ["Jan","Feb","Mar","Apr","May","Jun","Jul","Aug","Sep","Oct","Nov","Dec"]},
"axis": {"orient": "bottom", "labelAngle": 0, "ticks": false, "domain": false, "labelFont": "Liberation Sans", "labelFontSize": 12, "labelColor": "#333", "labelPadding": 0, "title": ["January 1,2003 0:00:00", "Min=\u00a0\u00a0\u00a0-0.6 at (10,31), Max=\u00a0\u00a0\u00a0\u00a01.6 at (6,7)"], "titleFont": "Liberation Sans", "titleFontSize": 15, "titleFontWeight": "normal", "titleColor": "black", "titlePadding": 14, "titleLineHeight": 15}},
"y": {"field": "d", "type": "ordinal", "scale": {"domain": [1,2,3,4,5,6,7,8,9,10,11,12,13,14,15,16,17,18,19,20,21,22,23,24,25,26,27,28,29,30,31]},
"axis": {"values": [1, 31], "labelExpr": "'Day ' + datum.value", "title": null, "ticks": false, "domain": false, "labelFont": "Liberation Sans", "labelFontSize": 11, "labelColor": "#555", "labelPadding": 2, "labelOffset": -3}},
"color": {"field": "v", "type": "quantitative", "scale": {"type": "threshold", "domain": [-0.8, -0.6, -0.4, -0.2, 0.2, 0.4, 0.6, 0.8], "range": ["#0000FF", "#0064FF", "#00C8FF", "#00FFFF", "#DCDCDC", "#FFFF00", "#FFC800", "#FF6600", "#FF0000"]}, "legend": null}
}
},
{
"data": {"name": "hl"},
"mark": {"type": "rule", "color": "#111", "strokeWidth": 1.3},
"encoding": {"y": {"field": "d", "type": "ordinal", "bandPosition": 0, "scale": {"domain": [1,2,3,4,5,6,7,8,9,10,11,12,13,14,15,16,17,18,19,20,21,22,23,24,25,26,27,28,29,30,31]}}}
},
{
"data": {"name": "vl"},
"mark": {"type": "rule", "color": "#111", "strokeWidth": 1.3},
"encoding": {"x": {"field": "m", "type": "ordinal", "bandPosition": 0, "scale": {"domain": ["Jan","Feb","Mar","Apr","May","Jun","Jul","Aug","Sep","Oct","Nov","Dec"]}}}
}
]
}
],
"spacing": 83.5,
"bounds": "flush",
"resolve": {"scale": {"color": "independent", "y": "independent", "x": "independent"}}
},
{
"hconcat": [
{
"width": 11, "height": 490,
"view": {"stroke": "black", "strokeWidth": 1},
"title": {"text": "g/kg", "orient": "bottom", "anchor": "start", "font": "Liberation Sans", "fontSize": 13, "fontWeight": "bold", "color": "black", "offset": 6},
"data": {"name": "cbGross"},
"mark": "rect",
"encoding": {
"y": {"field": "lo", "type": "quantitative", "scale": {"domain": [0, 2], "nice": false, "zero": false},
"axis": {"orient": "right", "title": null, "values": [0, 0.2, 0.4, 0.6, 0.8, 1, 1.2, 1.4, 1.6, 1.8, 2], "format": ".1f", "ticks": false, "domain": false, "labelAlign": "left", "labelPadding": 21, "labelFont": "DejaVu Sans", "labelFontSize": 12, "labelFontWeight": "bold", "labelColor": "black", "labelFlush": true, "labelFlushOffset": 3, "labelOverlap": false}},
"y2": {"field": "hi"},
"color": {"field": "v", "type": "quantitative", "scale": {"type": "threshold", "domain": [0.2, 0.4, 0.6, 0.8, 1.0, 1.2, 1.4, 1.6, 1.8], "range": ["#0000FF", "#0040FF", "#0080FF", "#00C8FF", "#00FFEE", "#EEFF00", "#FFC800", "#FF8C00", "#FF5000", "#FF0000"]}, "legend": null}
}
},
{
"width": 444, "height": 494,
"view": {"stroke": "#444", "strokeWidth": 1},
"title": {"text": "Humidity Gross Error - gl Grid", "subtitle": ["Annual MM5v363 2003 Daily Metrics:\u00a0\u00a036 km", "LADCO/MRPO"], "anchor": "middle", "font": "Liberation Serif", "fontSize": 26, "fontWeight": "normal", "color": "black", "subtitleFont": "Liberation Sans", "subtitleFontSize": 15, "subtitleColor": "black", "subtitleLineHeight": 15, "subtitlePadding": 13, "offset": 11},
"layer": [
{
"data": {"name": "gross"},
"mark": {"type": "rect", "stroke": "white", "strokeWidth": 1},
"encoding": {
"x": {"field": "m", "type": "ordinal", "scale": {"domain": ["Jan","Feb","Mar","Apr","May","Jun","Jul","Aug","Sep","Oct","Nov","Dec"]},
"axis": {"orient": "bottom", "labelAngle": 0, "ticks": false, "domain": false, "labelFont": "Liberation Sans", "labelFontSize": 12, "labelColor": "#333", "labelPadding": 0, "title": ["January 1,2003 0:00:00", "Min=\u00a0\u00a0\u00a0\u00a00.1 at (1,9), Max=\u00a0\u00a0\u00a0\u00a02.2 at (7,28)"], "titleFont": "Liberation Sans", "titleFontSize": 15, "titleFontWeight": "normal", "titleColor": "black", "titlePadding": 14, "titleLineHeight": 15}},
"y": {"field": "d", "type": "ordinal", "scale": {"domain": [1,2,3,4,5,6,7,8,9,10,11,12,13,14,15,16,17,18,19,20,21,22,23,24,25,26,27,28,29,30,31]},
"axis": {"values": [1, 31], "labelExpr": "'Day ' + datum.value", "title": null, "ticks": false, "domain": false, "labelFont": "Liberation Sans", "labelFontSize": 11, "labelColor": "#555", "labelPadding": 2, "labelOffset": -3}},
"color": {"field": "v", "type": "quantitative", "scale": {"type": "threshold", "domain": [0.2, 0.4, 0.6, 0.8, 1.0, 1.2, 1.4, 1.6, 1.8], "range": ["#0000FF", "#0040FF", "#0080FF", "#00C8FF", "#00FFEE", "#EEFF00", "#FFC800", "#FF8C00", "#FF5000", "#FF0000"]}, "legend": null}
}
},
{
"data": {"name": "hl"},
"mark": {"type": "rule", "color": "#111", "strokeWidth": 1.3},
"encoding": {"y": {"field": "d", "type": "ordinal", "bandPosition": 0, "scale": {"domain": [1,2,3,4,5,6,7,8,9,10,11,12,13,14,15,16,17,18,19,20,21,22,23,24,25,26,27,28,29,30,31]}}}
},
{
"data": {"name": "vl"},
"mark": {"type": "rule", "color": "#111", "strokeWidth": 1.3},
"encoding": {"x": {"field": "m", "type": "ordinal", "bandPosition": 0, "scale": {"domain": ["Jan","Feb","Mar","Apr","May","Jun","Jul","Aug","Sep","Oct","Nov","Dec"]}}}
}
]
}
],
"spacing": 85,
"bounds": "flush",
"resolve": {"scale": {"color": "independent", "y": "independent", "x": "independent"}}
}
],
"spacing": 47.5,
"resolve": {"scale": {"color": "independent", "x": "independent", "y": "independent"}}
}
